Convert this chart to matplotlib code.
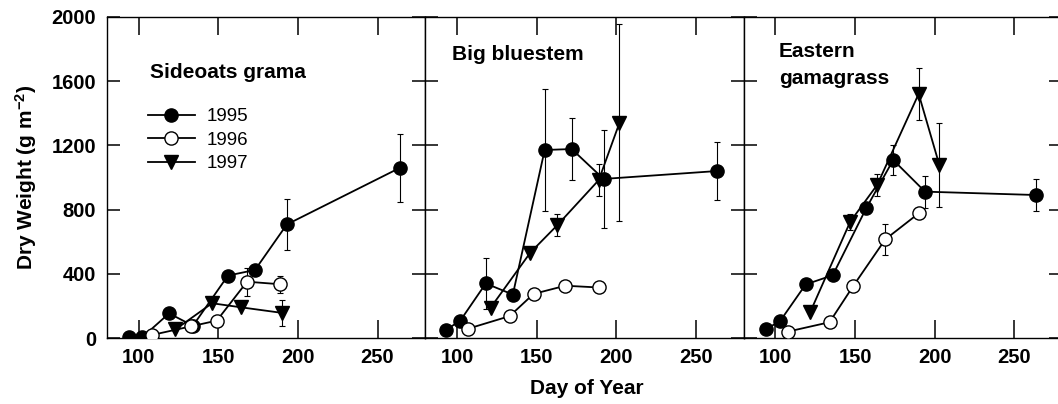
import matplotlib
matplotlib.use('Agg')
import matplotlib.pyplot as plt

plt.rcParams['font.family'] = ['Liberation Sans', 'DejaVu Sans']
plt.rcParams['mathtext.default'] = 'regular'

years = ['1995', '1996', '1997']
species = ['Sideoats grama', 'Big bluestem', 'Eastern\ngamagrass']
xticks = [100, 150, 200, 250]
yticks = [0, 400, 800, 1200, 1600, 2000]

# Sideoats grama
sg_day_95 = [94, 102, 119, 134, 156, 173, 193, 264]
sg_dw_95 = [10, 5, 155, 78, 390, 425, 708, 1060]
sg_err_95 = [0, 0, 0, 0, 0, 30, 158, 210]
sg_day_96 = [108, 133, 149, 168, 189]
sg_dw_96 = [20, 75, 110, 352, 336]
sg_err_96 = [0, 0, 0, 88, 52]
sg_day_97 = [123, 146, 164, 190]
sg_dw_97 = [55, 218, 193, 158]
sg_err_97 = [0, 0, 0, 82]

# Big bluestem
bb_day_95 = [93, 102, 118, 135, 155, 172, 192, 263]
bb_dw_95 = [52, 110, 341, 272, 1171, 1177, 991, 1040]
bb_err_95 = [0, 0, 160, 30, 380, 190, 305, 180]
bb_day_96 = [107, 133, 148, 168, 189]
bb_dw_96 = [60, 138, 276, 327, 316]
bb_err_96 = [0, 0, 0, 0, 0]
bb_day_97 = [121, 146, 163, 189, 202]
bb_dw_97 = [190, 533, 704, 984, 1340]
bb_err_97 = [0, 0, 68, 98, 612]

# Eastern gamagrass
eg_day_95 = [94, 103, 119, 136, 157, 174, 194, 264]
eg_dw_95 = [56, 108, 335, 392, 808, 1109, 912, 891]
eg_err_95 = [0, 0, 0, 0, 0, 92, 100, 98]
eg_day_96 = [108, 134, 149, 169, 190]
eg_dw_96 = [42, 100, 327, 615, 777]
eg_err_96 = [0, 0, 0, 95, 0]
eg_day_97 = [122, 147, 164, 190, 203]
eg_dw_97 = [166, 725, 955, 1520, 1078]
eg_err_97 = [0, 50, 67, 160, 262]

panels = [
    [(sg_day_95, sg_dw_95, sg_err_95), (sg_day_96, sg_dw_96, sg_err_96), (sg_day_97, sg_dw_97, sg_err_97)],
    [(bb_day_95, bb_dw_95, bb_err_95), (bb_day_96, bb_dw_96, bb_err_96), (bb_day_97, bb_dw_97, bb_err_97)],
    [(eg_day_95, eg_dw_95, eg_err_95), (eg_day_96, eg_dw_96, eg_err_96), (eg_day_97, eg_dw_97, eg_err_97)],
]

styles = [
    dict(marker='o', mfc='black', mec='black', ms=9.5),
    dict(marker='o', mfc='white', mec='black', ms=9.5, mew=1.0),
    dict(marker='v', mfc='black', mec='black', ms=9.5),
]

title_pos = [(0.135, 0.856), (0.084, 0.912), (0.111, 0.922)]

W, H = 1058, 404
fig = plt.figure(figsize=(W / 100, H / 100), dpi=100)

pw = 318.3
axes = []
for i in range(3):
    left = (107 + i * pw) / W
    ax = fig.add_axes([left, (H - 338.3) / H, pw / W, 321.6 / H])
    axes.append(ax)
    handles = []
    for j, (d, v, e) in enumerate(panels[i]):
        # error bars only where there is one
        ed = [d[k] for k in range(len(d)) if e[k] > 0]
        ev = [v[k] for k in range(len(d)) if e[k] > 0]
        ee = [e[k] for k in range(len(d)) if e[k] > 0]
        if ed:
            ax.errorbar(ed, ev, yerr=ee, fmt='none', ecolor='black',
                        elinewidth=0.8, capsize=2.5, capthick=0.8, zorder=1)
        h, = ax.plot(d, v, color='black', lw=1.3, zorder=2 + j, **styles[j])
        handles.append(h)

    ax.set_xlim(80, 280)
    ax.set_ylim(0, 2000)
    ax.set_xticks(xticks)
    ax.set_yticks(yticks)
    ax.tick_params(axis='x', direction='in', top=True, length=13, width=1.1,
                   labelsize=14.5, pad=7)
    ax.tick_params(axis='y', direction='in', right=True, length=9.5, width=1.1,
                   labelsize=14.5, pad=8)
    for lab in ax.get_xticklabels() + ax.get_yticklabels():
        lab.set_fontweight('bold')
    if i > 0:
        ax.set_yticklabels([])
    for s in ax.spines.values():
        s.set_linewidth(1.0)

    tx, ty = title_pos[i]
    ax.text(tx, ty, species[i], transform=ax.transAxes, fontsize=15,
            fontweight='bold', ha='left', va='top', linespacing=1.55)

    if i == 0:
        ax.legend(handles, years, loc='upper left', bbox_to_anchor=(0.129, 0.715),
                  frameon=False, fontsize=13.5, handlelength=2.5,
                  handletextpad=0.6, labelspacing=0.33, borderpad=0,
                  borderaxespad=0)

fig.text(26 / W, 1 - 177.5 / H, 'Dry Weight (g m$^{-2}$)', rotation=90,
         ha='center', va='center', fontsize=15, fontweight='bold')
fig.text(587 / W, 1 - 388 / H, 'Day of Year', ha='center', va='center',
         fontsize=15, fontweight='bold')

fig.savefig('out.png', dpi=100)
